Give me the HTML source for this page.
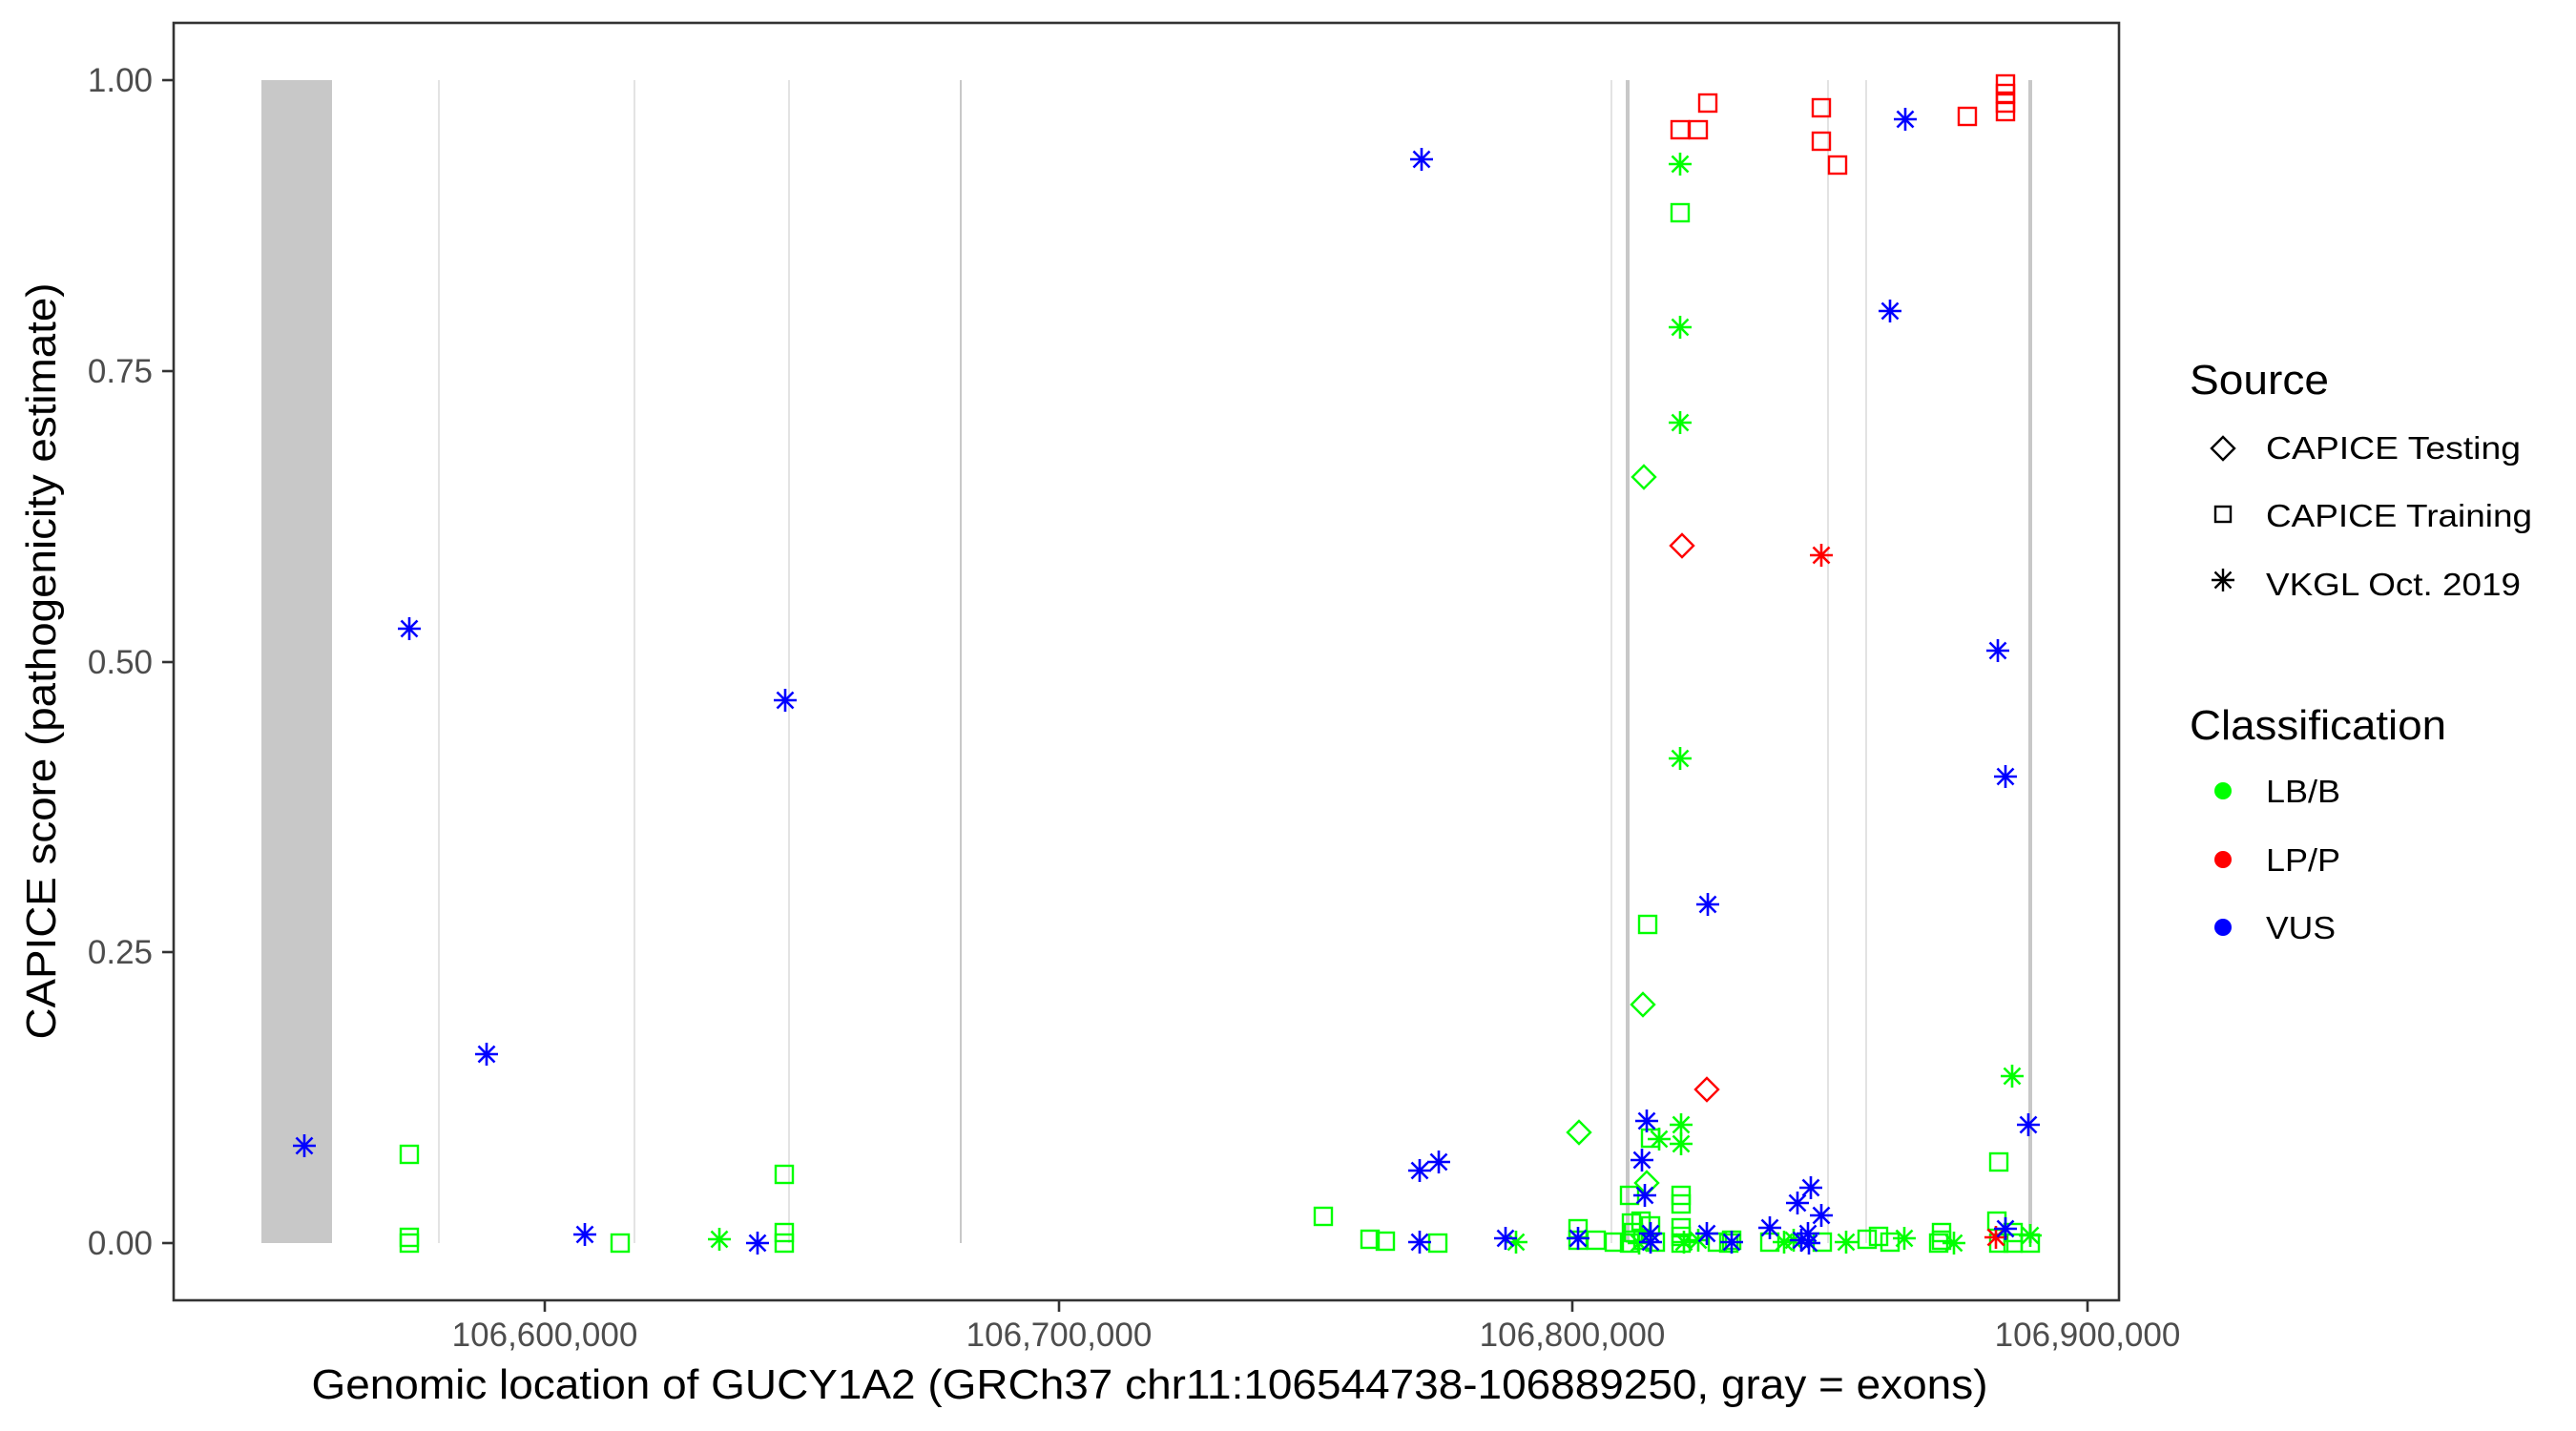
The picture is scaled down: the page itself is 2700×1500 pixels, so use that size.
<!DOCTYPE html>
<html><head><meta charset="utf-8"><style>html,body{margin:0;padding:0;background:#fff}svg{display:block}</style></head>
<body>
<svg width="2700" height="1500" viewBox="0 0 2700 1500" xmlns="http://www.w3.org/2000/svg" font-family="Liberation Sans, Arial, sans-serif">
<defs>
<rect id="q" x="-9" y="-9" width="18" height="18" fill="none" stroke-width="2.4"/>
<path id="s" d="M-12 0H12M0-12V12M-8.5-8.5L8.5 8.5M-8.5 8.5L8.5-8.5" fill="none" stroke-width="2.6"/>
<path id="d" d="M0-12L12 0L0 12L-12 0Z" fill="none" stroke-width="2.4"/>
</defs>
<rect width="2700" height="1500" fill="#fff"/>
<rect x="274" y="84" width="74" height="1219" fill="#c8c8c8"/>
<g stroke="#dcdcdc" stroke-width="1.6">
<line x1="460" y1="84" x2="460" y2="1303"/><line x1="665" y1="84" x2="665" y2="1303"/>
<line x1="827" y1="84" x2="827" y2="1303"/><line x1="1689" y1="84" x2="1689" y2="1303"/>
<line x1="1916" y1="84" x2="1916" y2="1303"/><line x1="1956" y1="84" x2="1956" y2="1303"/>
</g>
<line x1="1007" y1="84" x2="1007" y2="1303" stroke="#c8c8c8" stroke-width="2"/>
<line x1="1706" y1="84" x2="1706" y2="1303" stroke="#c8c8c8" stroke-width="4"/>
<line x1="2128" y1="84" x2="2128" y2="1303" stroke="#c8c8c8" stroke-width="4"/>
<g stroke="#00ff00">
<use href="#q" x="429" y="1210"/><use href="#q" x="429" y="1297"/><use href="#q" x="429" y="1303"/>
<use href="#q" x="650" y="1303"/><use href="#s" x="754" y="1299"/>
<use href="#q" x="822" y="1231"/><use href="#q" x="822" y="1292"/><use href="#q" x="822" y="1303"/>
<use href="#q" x="1387" y="1275"/><use href="#q" x="1436" y="1299"/><use href="#q" x="1452" y="1301"/>
<use href="#q" x="1507" y="1303"/><use href="#s" x="1589" y="1302"/>
<use href="#d" x="1655" y="1187"/><use href="#q" x="1654" y="1288"/><use href="#q" x="1654" y="1300"/>
<use href="#q" x="1673" y="1300"/><use href="#q" x="1692" y="1302"/>
<use href="#q" x="1730" y="1193"/><use href="#s" x="1739" y="1194"/><use href="#s" x="1762" y="1179"/><use href="#s" x="1762" y="1199"/>
<use href="#d" x="1726" y="1240"/><use href="#q" x="1708" y="1253"/><use href="#q" x="1762" y="1253"/><use href="#q" x="1762" y="1262"/>
<use href="#q" x="1710" y="1282"/><use href="#q" x="1720" y="1280"/><use href="#q" x="1730" y="1285"/><use href="#q" x="1712" y="1292"/>
<use href="#q" x="1722" y="1300"/><use href="#q" x="1735" y="1302"/><use href="#q" x="1708" y="1303"/><use href="#s" x="1718" y="1303"/>
<use href="#q" x="1762" y="1287"/><use href="#q" x="1762" y="1296"/><use href="#q" x="1762" y="1303"/><use href="#s" x="1765" y="1302"/>
<use href="#s" x="1780" y="1300"/><use href="#q" x="1800" y="1302"/><use href="#q" x="1815" y="1300"/><use href="#q" x="1812" y="1303"/>
<use href="#q" x="1855" y="1302"/><use href="#s" x="1870" y="1302"/><use href="#s" x="1880" y="1300"/><use href="#q" x="1910" y="1302"/>
<use href="#s" x="1935" y="1302"/><use href="#q" x="1957" y="1299"/><use href="#q" x="1969" y="1296"/><use href="#q" x="1981" y="1302"/>
<use href="#s" x="1996" y="1298"/><use href="#q" x="2035" y="1292"/><use href="#q" x="2035" y="1300"/><use href="#q" x="2032" y="1303"/>
<use href="#s" x="2048" y="1303"/>
<use href="#s" x="1761" y="172"/><use href="#q" x="1761" y="223"/><use href="#s" x="1761" y="343"/><use href="#s" x="1761" y="443"/>
<use href="#d" x="1723" y="500"/><use href="#s" x="1761" y="795"/><use href="#q" x="1727" y="969"/><use href="#d" x="1722" y="1053"/>
<use href="#s" x="2109" y="1128"/><use href="#q" x="2095" y="1218"/>
<use href="#q" x="2093" y="1280"/><use href="#q" x="2110" y="1292"/><use href="#q" x="2110" y="1303"/><use href="#q" x="2095" y="1303"/>
<use href="#q" x="2128" y="1303"/><use href="#s" x="2128" y="1295"/>
</g>
<g stroke="#ff0000">
<use href="#q" x="1761" y="136"/><use href="#q" x="1780" y="136"/><use href="#q" x="1790" y="108"/>
<use href="#q" x="1909" y="113"/><use href="#q" x="1909" y="148"/><use href="#q" x="1926" y="173"/>
<use href="#q" x="2062" y="122"/><use href="#q" x="2102" y="88"/><use href="#q" x="2102" y="98"/><use href="#q" x="2102" y="108"/><use href="#q" x="2102" y="117"/>
<use href="#d" x="1763" y="572"/><use href="#s" x="1909" y="582"/><use href="#d" x="1789" y="1142"/>
<use href="#s" x="2092" y="1297"/>
</g>
<g stroke="#0000ff">
<use href="#s" x="319" y="1201"/><use href="#s" x="429" y="659"/><use href="#s" x="510" y="1105"/>
<use href="#s" x="613" y="1294"/><use href="#s" x="794" y="1303"/><use href="#s" x="823" y="734"/>
<use href="#s" x="1490" y="167"/><use href="#s" x="1488" y="1227"/><use href="#s" x="1508" y="1218"/>
<use href="#s" x="1488" y="1302"/><use href="#s" x="1578" y="1298"/><use href="#s" x="1654" y="1298"/>
<use href="#s" x="1726" y="1175"/><use href="#s" x="1721" y="1216"/><use href="#s" x="1724" y="1253"/>
<use href="#s" x="1730" y="1293"/><use href="#s" x="1730" y="1302"/><use href="#s" x="1789" y="1293"/>
<use href="#s" x="1790" y="948"/><use href="#s" x="1815" y="1302"/><use href="#s" x="1855" y="1287"/>
<use href="#s" x="1884" y="1261"/><use href="#s" x="1898" y="1245"/><use href="#s" x="1909" y="1274"/>
<use href="#s" x="1895" y="1293"/><use href="#s" x="1888" y="1300"/><use href="#s" x="1896" y="1303"/>
<use href="#s" x="1997" y="125"/><use href="#s" x="1981" y="326"/><use href="#s" x="2094" y="682"/><use href="#s" x="2102" y="814"/>
<use href="#s" x="2126" y="1179"/><use href="#s" x="2102" y="1288"/>
</g>
<rect x="182" y="24" width="2039" height="1339" fill="none" stroke="#333" stroke-width="2.6"/>
<g stroke="#333" stroke-width="2.6">
<line x1="170" y1="84" x2="182" y2="84"/><line x1="170" y1="389" x2="182" y2="389"/>
<line x1="170" y1="694" x2="182" y2="694"/><line x1="170" y1="998" x2="182" y2="998"/>
<line x1="170" y1="1303" x2="182" y2="1303"/>
<line x1="571" y1="1363" x2="571" y2="1375"/><line x1="1110" y1="1363" x2="1110" y2="1375"/>
<line x1="1648" y1="1363" x2="1648" y2="1375"/><line x1="2188" y1="1363" x2="2188" y2="1375"/>
</g>
<g fill="#4d4d4d" font-size="35" text-anchor="end">
<text x="160" y="96">1.00</text><text x="160" y="401">0.75</text><text x="160" y="706">0.50</text>
<text x="160" y="1010">0.25</text><text x="160" y="1315">0.00</text>
</g>
<g fill="#4d4d4d" font-size="35" text-anchor="middle">
<text x="571" y="1411">106,600,000</text><text x="1110" y="1411">106,700,000</text>
<text x="1648" y="1411">106,800,000</text><text x="2188" y="1411">106,900,000</text>
</g>
<text x="1205" y="1466" font-size="44" text-anchor="middle" fill="#000" textLength="1757" lengthAdjust="spacingAndGlyphs">Genomic location of GUCY1A2 (GRCh37 chr11:106544738-106889250, gray = exons)</text>
<text transform="translate(58,693) rotate(-90)" font-size="44" text-anchor="middle" fill="#000" textLength="793" lengthAdjust="spacingAndGlyphs">CAPICE score (pathogenicity estimate)</text>
<text x="2295" y="413" font-size="44" fill="#000" textLength="146" lengthAdjust="spacingAndGlyphs">Source</text>
<g stroke="#000" fill="none" stroke-width="2.4">
<path d="M2330 458L2342 470L2330 482L2318 470Z"/>
<rect x="2322" y="531" width="16" height="16"/>
<path d="M2318 608H2342M2330 596V620M2321.5 599.5L2338.5 616.5M2321.5 616.5L2338.5 599.5"/>
</g>
<g font-size="33" fill="#000">
<text x="2375" y="481" textLength="267" lengthAdjust="spacingAndGlyphs">CAPICE Testing</text>
<text x="2375" y="552" textLength="279" lengthAdjust="spacingAndGlyphs">CAPICE Training</text>
<text x="2375" y="624" textLength="267" lengthAdjust="spacingAndGlyphs">VKGL Oct. 2019</text>
</g>
<text x="2295" y="775" font-size="44" fill="#000" textLength="269" lengthAdjust="spacingAndGlyphs">Classification</text>
<circle cx="2330" cy="829" r="9" fill="#00ff00"/><circle cx="2330" cy="901" r="9" fill="#ff0000"/><circle cx="2330" cy="972" r="9" fill="#0000ff"/>
<g font-size="33" fill="#000">
<text x="2375" y="841" textLength="78" lengthAdjust="spacingAndGlyphs">LB/B</text>
<text x="2375" y="913" textLength="78" lengthAdjust="spacingAndGlyphs">LP/P</text>
<text x="2375" y="984" textLength="73" lengthAdjust="spacingAndGlyphs">VUS</text>
</g>
</svg>
</body></html>
